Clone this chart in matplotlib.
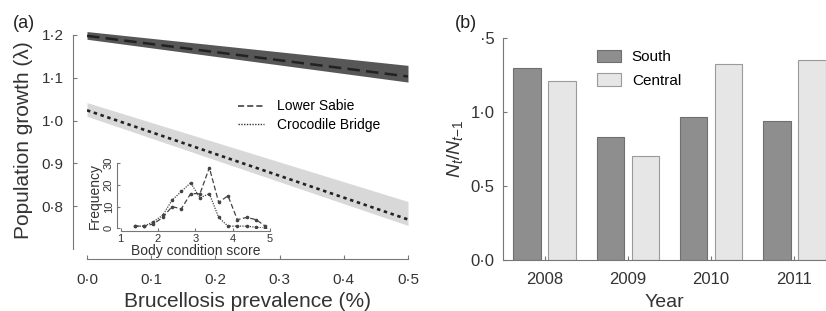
import matplotlib
matplotlib.use("Agg")
import matplotlib.pyplot as plt
from matplotlib.lines import Line2D
import numpy as np

plt.rcParams["font.family"] = ["Liberation Sans", "DejaVu Sans"]
plt.rcParams["mathtext.fontset"] = "custom"
plt.rcParams["mathtext.rm"] = "Liberation Sans"
plt.rcParams["mathtext.it"] = "Liberation Sans:italic"

# (a) population growth vs brucellosis prevalence
prevalence = [0.0, 0.5]
sabie_mean = [1.198, 1.103]
sabie_low = [1.190, 1.090]
sabie_high = [1.208, 1.129]
croc_mean = [1.024, 0.769]
croc_low = [1.010, 0.755]
croc_high = [1.042, 0.811]

# inset: body condition score histograms
bcs = [1.375, 1.625, 1.875, 2.125, 2.375, 2.625, 2.875, 3.125, 3.375, 3.625, 3.875, 4.125, 4.375, 4.625, 4.875]
freq_sabie = [1, 1, 2, 5, 10, 9, 16, 16, 28, 12, 15, 4, 5, 4, 1]
freq_croc = [1, 1, 3, 6, 13, 17, 21, 14, 16, 5, 1, 1, 1, 0.5, 0]

# (b) N_t / N_t-1 by year
years = ["2008", "2009", "2010", "2011"]
south = [1.297, 0.832, 0.967, 0.940]
central = [1.207, 0.704, 1.322, 1.349]

a_xticks = [0.0, 0.1, 0.2, 0.3, 0.4, 0.5]
a_yticks = [0.8, 0.9, 1.0, 1.1, 1.2]
b_yticks = [0.0, 0.5, 1.0, 1.5]
b_yticklabels = ["0·0", "0·5", "1·0", "·5"]


def dot_label(v):
    return f"{v:.1f}".replace(".", "·")


fig = plt.figure(figsize=(8.26, 3.11), dpi=100)
W, H = 826, 311

ax = fig.add_axes([87 / W, (H - 249) / H, 321 / W, 218.3 / H])
ax.fill_between(prevalence, sabie_low, sabie_high, color="#575757", lw=0)
ax.fill_between(prevalence, croc_low, croc_high, color="#d8d8d8", lw=0)
ax.plot(prevalence, sabie_mean, color="#222222", lw=1.8, ls=(0, (5, 2.5)))
ax.plot(prevalence, croc_mean, color="#222222", lw=1.9, ls=(0, (1.3, 1.4)))
ax.set_xlim(0, 0.5)
ax.set_ylim(0.7, 1.21)
ax.set_xticks(a_xticks)
ax.set_xticklabels([dot_label(v) for v in a_xticks])
ax.set_yticks(a_yticks)
ax.set_yticklabels([dot_label(v) for v in a_yticks])
for s in ["top", "right"]:
    ax.spines[s].set_visible(False)
ax.spines["left"].set_position(("outward", 10))
ax.spines["bottom"].set_position(("outward", 7))
ax.spines["left"].set_bounds(0.7, 1.2)
ax.spines["bottom"].set_bounds(0, 0.5)
for s in ["left", "bottom"]:
    ax.spines[s].set_color("#777777")
ax.tick_params(axis="both", direction="in", length=3, color="#777777", labelsize=11, labelcolor="#333333")
ax.tick_params(axis="x", pad=10)
ax.tick_params(axis="y", pad=7)
ax.set_xlabel("Brucellosis prevalence (%)", fontsize=15, color="#333333", labelpad=4)
ax.set_ylabel("Population growth (λ)", fontsize=15, color="#333333", labelpad=6)

# legend samples are drawn thinner than the lines in the plot
handles = [
    Line2D([], [], color="#333333", lw=1.1, ls=(0, (4, 2))),
    Line2D([], [], color="#333333", lw=1.0, ls=(0, (1, 1))),
]
ax.legend(handles, ["Lower Sabie", "Crocodile Bridge"], loc="upper left", bbox_to_anchor=(0.47, 0.685),
          frameon=False, fontsize=10, handlelength=1.9, handletextpad=0.9, labelspacing=0.3,
          borderpad=0, borderaxespad=0)

ins = fig.add_axes([120.7 / W, (H - 228.3) / H, 149.3 / W, 65 / H])
ins.plot(bcs, freq_sabie, color="#444444", lw=0.9, ls=(0, (4, 2)), marker="o", ms=1.6)
ins.plot(bcs, freq_croc, color="#444444", lw=0.9, ls=(0, (1, 1)), marker="o", ms=1.6)
ins.set_xlim(1, 5)
ins.set_ylim(0, 30)
ins.set_xticks([1, 2, 3, 4, 5])
ins.set_yticks([0, 10, 20, 30])
ins.patch.set_visible(False)
for s in ["top", "right"]:
    ins.spines[s].set_visible(False)
ins.spines["left"].set_position(("outward", 3))
ins.spines["bottom"].set_position(("outward", 2))
for s in ["left", "bottom"]:
    ins.spines[s].set_color("#777777")
ins.tick_params(axis="both", direction="in", length=2, color="#777777", labelsize=8, labelcolor="#333333", pad=2)
for lbl in ins.get_yticklabels():
    lbl.set_rotation(90)
    lbl.set_va("center")
ins.set_xlabel("Body condition score", fontsize=10, color="#333333", labelpad=0)
ins.set_ylabel("Frequency", fontsize=10, color="#333333", labelpad=1)

fig.text(13 / W, 1 - 23 / H, "(a)", fontsize=13, va="center", color="#222222")

bx = fig.add_axes([503 / W, (H - 260) / H, 323 / W, 222.3 / H])
pos = np.arange(len(years))
bx.bar(pos - 0.21, south, width=0.33, color="#8e8e8e", edgecolor="#6f6f6f", lw=0.8, label="South")
bx.bar(pos + 0.21, central, width=0.33, color="#e6e6e6", edgecolor="#9a9a9a", lw=0.8, label="Central")
bx.set_xlim(-0.5, 3.38)
bx.set_ylim(0, 1.5)
bx.set_xticks(pos)
bx.set_xticklabels(years)
bx.set_yticks(b_yticks)
bx.set_yticklabels(b_yticklabels)
for s in ["top", "right"]:
    bx.spines[s].set_visible(False)
for s in ["left", "bottom"]:
    bx.spines[s].set_color("#777777")
bx.tick_params(axis="both", direction="in", length=3, color="#777777", labelsize=12, labelcolor="#333333")
bx.tick_params(axis="x", pad=9)
bx.tick_params(axis="y", pad=6)
bx.set_xlabel("Year", fontsize=14, color="#333333", labelpad=5)
bx.set_ylabel(r"$N_\mathit{t}/N_{\mathit{t}\mathrm{-1}}$", fontsize=14, color="#333333", labelpad=4)
bx.legend(loc="upper left", bbox_to_anchor=(0.29, 0.945), frameon=False, fontsize=11,
          handlelength=1.6, handleheight=0.85, handletextpad=0.7, labelspacing=0.6,
          borderpad=0, borderaxespad=0)

fig.text(455 / W, 1 - 23 / H, "(b)", fontsize=13, va="center", color="#222222")

fig.savefig("out.png", dpi=100)
